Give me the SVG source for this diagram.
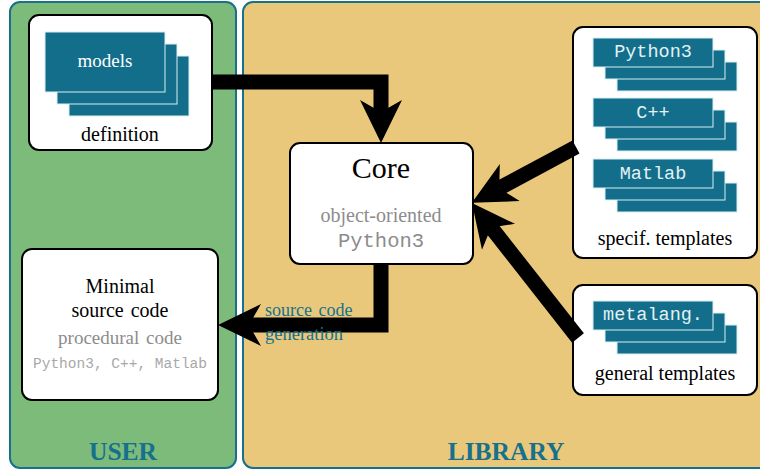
<svg xmlns="http://www.w3.org/2000/svg" width="760" height="471" viewBox="0 0 760 471">
<defs>
<style>
.panel{stroke:#17708c;stroke-width:2}
.box{fill:#fff;stroke:#000;stroke-width:2}
.stk{fill:#126e8a;stroke:#d8eef2;stroke-width:1}
.serif{font-family:"Liberation Serif","Times New Roman",serif}
.mono{font-family:"Liberation Mono","Courier New",monospace}
.stxt{fill:#e4f1f4;font-size:18.5px;text-anchor:middle}
.lbl{fill:#000;font-size:20px;text-anchor:middle}
.gray{fill:#8c8c8c}
.conn{fill:none;stroke:#000;stroke-width:15;stroke-linejoin:miter}
.title{fill:#17708c;font-size:25.5px;font-weight:bold;text-anchor:middle}
</style>
<marker id="ah" markerUnits="userSpaceOnUse" viewBox="-13 -22 45 44" refX="0" refY="0" markerWidth="45" markerHeight="44" orient="auto" overflow="visible">
<path d="M31,0 L-12,-21 L0,0 L-12,21 Z" fill="#000"/>
</marker>
</defs>
<g id="user-panel">
<rect class="panel" x="10" y="2" width="226" height="466" rx="10" fill="#7dbb7b"/>
<text class="serif title" x="123" y="460">USER</text>
</g>
<g id="library-panel">
<rect class="panel" x="243" y="2" width="530" height="466" rx="10" fill="#e9c87b"/>
<text class="serif title" x="506" y="460">LIBRARY</text>
</g>
<g id="definition">
<rect class="box" x="29" y="15" width="183" height="135" rx="10"/>
<rect class="stk" x="69" y="56" width="120" height="60"/>
<rect class="stk" x="57" y="44" width="120" height="60"/>
<rect class="stk" x="45" y="32" width="120" height="60"/>
<text class="serif" x="105" y="67" fill="#fff" font-size="19" text-anchor="middle">models</text>
<text class="serif lbl" x="120" y="141">definition</text>
</g>
<g id="core">
<rect class="box" x="290" y="143" width="183" height="121" rx="10"/>
<text class="serif" x="381" y="178" font-size="30" text-anchor="middle">Core</text>
<text class="serif gray" x="381" y="222" font-size="20" text-anchor="middle">object-oriented</text>
<text class="mono gray" x="381" y="247" font-size="20.5" text-anchor="middle">Python3</text>
</g>
<g id="specif-templates">
<rect class="box" x="573" y="27" width="184" height="231" rx="10"/>
<rect class="stk" x="617" y="62" width="120" height="29"/>
<rect class="stk" x="605" y="50" width="120" height="29"/>
<rect class="stk" x="593" y="38" width="120" height="29"/>
<text class="mono stxt" x="653" y="57">Python3</text>
<rect class="stk" x="617" y="122" width="120" height="29"/>
<rect class="stk" x="605" y="110" width="120" height="29"/>
<rect class="stk" x="593" y="98" width="120" height="29"/>
<text class="mono stxt" x="653" y="118">C++</text>
<rect class="stk" x="617" y="183" width="120" height="29"/>
<rect class="stk" x="605" y="171" width="120" height="29"/>
<rect class="stk" x="593" y="159" width="120" height="29"/>
<text class="mono stxt" x="653" y="179">Matlab</text>
<text class="serif lbl" x="665" y="245">specif. templates</text>
</g>
<g id="general-templates">
<rect class="box" x="573" y="285" width="184" height="110" rx="10"/>
<rect class="stk" x="617" y="325" width="120" height="29"/>
<rect class="stk" x="605" y="313" width="120" height="29"/>
<rect class="stk" x="593" y="301" width="120" height="29"/>
<text class="mono stxt" x="653" y="320">metalang.</text>
<text class="serif lbl" x="665" y="380">general templates</text>
</g>
<g id="minimal-source">
<rect class="box" x="22" y="249" width="196" height="151" rx="10"/>
<text class="serif lbl" x="120" y="293" font-size="21">Minimal</text>
<text class="serif lbl" x="120" y="317" font-size="21" word-spacing="2">source code</text>
<text class="serif gray" x="120" y="344" font-size="19" text-anchor="middle" word-spacing="2">procedural code</text>
<text class="mono" x="120" y="368" fill="#a8a8a8" font-size="14.5" text-anchor="middle">Python3, C++, Matlab</text>
</g>
<g id="connectors">
<path class="conn" d="M212,82 H381 V112" marker-end="url(#ah)"/>
<path class="conn" d="M381,264 V325 H249" marker-end="url(#ah)"/>
<path class="conn" d="M576,147 L499.2,188.2" marker-end="url(#ah)"/>
<path class="conn" d="M578,338 L491.1,227.4" marker-end="url(#ah)"/>
<text class="serif" x="265" y="316" fill="#17708c" font-size="18" word-spacing="2">source code</text>
<text class="serif" x="265" y="340" fill="#17708c" font-size="18.5">generation</text>
</g>
</svg>
